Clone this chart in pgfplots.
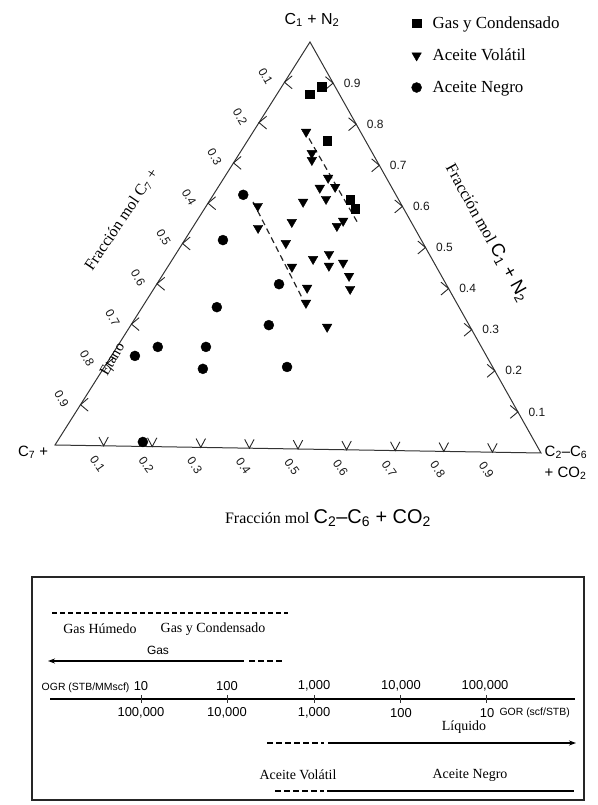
\documentclass[border=0pt]{standalone}
\usepackage{fontspec}
\setmainfont{Liberation Serif}
\newfontfamily\sansf{Liberation Sans}
\usepackage{pgfplots}
\usepackage{pgfplotstable}
\pgfplotsset{compat=1.18}
\usetikzlibrary{arrows.meta}

\newcommand\fs[1]{\fontsize{#1}{#1}\selectfont}
\tikzset{
  tk/.style={line width=0.9bp, black!85},
  ticklab/.style={font=\sansf\fs{12}, inner sep=0pt, text=black!90},
}

% Compositions: c1 = mole fraction C1+N2, c2 = mole fraction C2-C6+CO2
% (the C7+ fraction is 1 - c1 - c2)
\pgfplotstableread{
c1    c2
0.872 0.067
0.890 0.082
0.758 0.162
0.614 0.285
0.592 0.307
}\gascond

\pgfplotstableread{
c1    c2
0.779 0.108
0.727 0.147
0.710 0.156
0.667 0.212
0.645 0.238
0.642 0.208
0.615 0.235
0.607 0.192
0.595 0.105
0.557 0.195
0.541 0.134
0.549 0.292
0.562 0.298
0.505 0.210
0.467 0.286
0.480 0.312
0.451 0.327
0.447 0.253
0.459 0.352
0.427 0.381
0.395 0.400
0.396 0.311
0.359 0.328
0.301 0.402
}\volatil

\pgfplotstableread{
c1    c2
0.622 0.061
0.510 0.078
0.404 0.249
0.345 0.152
0.303 0.281
0.245 0.083
0.222 0.048
0.247 0.181
0.193 0.203
0.201 0.372
0.011 0.175
}\negro

% dashed boundaries between the fluid types
\pgfplotstableread{
c1    c2
0.784 0.101
0.557 0.331
}\limA
\pgfplotstableread{
c1    c2
0.605 0.090
0.373 0.312
}\limB

\begin{document}
\begin{tikzpicture}
\begin{axis}[name=main, scale only axis, width=598bp, height=805bp,
  xmin=0, xmax=598, ymin=-805, ymax=0, axis lines=none, clip=false,
  legend style={at={(0.688,0.982)}, anchor=north west, draw=none, fill=none,
    font=\fs{17}, row sep=15bp, column sep=9bp, inner sep=0pt},
  legend image code/.code={\draw[#1] plot coordinates {(0bp,0bp)};},
  legend cell align=left,
]
% triangle frame
\draw[line width=1bp, black!80] (axis cs:55,-445) -- (axis cs:541,-453) -- (axis cs:310,-42) -- cycle;

\pgfplotsinvokeforeach{1,...,9}{
  % bottom scale: C2-C6 + CO2
  \draw[tk] (axis cs:{55+48.6*#1},{-445-0.8*#1}) ++(118:10bp) -- (axis cs:{55+48.6*#1},{-445-0.8*#1}) -- ++(62:10bp);
  \node[ticklab, rotate=-55] at (axis cs:{49+48.6*#1},{-463-0.8*#1}) {0.#1};
  % left scale: C7+
  \draw[tk] (axis cs:{55+25.5*(10-#1)},{-445+40.3*(10-#1)}) ++(40:10bp) -- (axis cs:{55+25.5*(10-#1)},{-445+40.3*(10-#1)}) -- ++(-40:10bp);
  \node[ticklab, rotate=-60] at (axis cs:{36+25.5*(10-#1)},{-439+40.3*(10-#1)}) {0.#1};
  % right scale: C1 + N2
  \draw[tk] (axis cs:{541-23.1*#1},{-453+41.1*#1}) ++(140:10bp) -- (axis cs:{541-23.1*#1},{-453+41.1*#1}) -- ++(220:10bp);
  \node[ticklab] at (axis cs:{560-23.1*#1},{-453+41.1*#1}) {0.#1};
}

\addplot[forget plot, dash pattern=on 6bp off 4bp, line width=1.2bp, black!85]
  table[x expr={55+486*\thisrow{c2}+255*\thisrow{c1}}, y expr={-445-8*\thisrow{c2}+403*\thisrow{c1}}] {\limA};
\addplot[forget plot, dash pattern=on 6bp off 4bp, line width=1.2bp, black!85]
  table[x expr={55+486*\thisrow{c2}+255*\thisrow{c1}}, y expr={-445-8*\thisrow{c2}+403*\thisrow{c1}}] {\limB};

\addplot[only marks, mark=square*, mark size=4.3bp, black]
  table[x expr={55+486*\thisrow{c2}+255*\thisrow{c1}}, y expr={-445-8*\thisrow{c2}+403*\thisrow{c1}}] {\gascond};
\addlegendentry{Gas y Condensado}
\addplot[only marks, mark=triangle*, mark size=5.5bp, black, every mark/.append style={rotate=180}]
  table[x expr={55+486*\thisrow{c2}+255*\thisrow{c1}}, y expr={-445-8*\thisrow{c2}+403*\thisrow{c1}}] {\volatil};
\addlegendentry{Aceite Volátil}
\addplot[only marks, mark=*, mark size=5bp, black]
  table[x expr={55+486*\thisrow{c2}+255*\thisrow{c1}}, y expr={-445-8*\thisrow{c2}+403*\thisrow{c1}}] {\negro};
\addlegendentry{Aceite Negro}

% corner and side titles
\node[font=\sansf\fs{16}] at (axis cs:312,-20) {C\textsubscript{1} + N\textsubscript{2}};
\node[font=\sansf\fs{15}] at (axis cs:33,-452) {C\textsubscript{7} +};
\node[font=\sansf\fontsize{15}{21}\selectfont, align=left] at (axis cs:566,-463) {C\textsubscript{2}–C\textsubscript{6}\\+ CO\textsubscript{2}};
\node at (axis cs:328,-518) {\fs{16}Fracción mol \sansf\fs{20}C\textsubscript{2}–C\textsubscript{6} + CO\textsubscript{2}};
\node[rotate=56] at (axis cs:122,-220) {\fs{16}Fracción mol C\textsubscript{7} +};
\node[rotate=-61] at (axis cs:487,-233) {\fs{16.5}Fracción mol \sansf\fs{18.5}C\textsubscript{1} + N\textsubscript{2}};
\node[rotate=60, font=\fs{15}, inner sep=0pt] at (axis cs:112,-359) {Etano};

% ---- OGR / GOR scale ----
\draw[line width=1.1bp, black!85] (axis cs:32,-577) rectangle (axis cs:584,-800);
\addplot[forget plot, dash pattern=on 5bp off 3bp, line width=1.3bp, black] coordinates {(52,-613) (288,-613)};
\node[font=\fs{14}] at (axis cs:100,-629) {Gas Húmedo};
\node[font=\fs{14}] at (axis cs:213,-629) {Gas y Condensado};
\node[font=\sansf\fs{12}] at (axis cs:158,-650) {Gas};
\addplot[forget plot, {Stealth[length=7bp,width=5bp]}-, line width=1.3bp, black] coordinates {(48,-661) (244,-661)};
\addplot[forget plot, dash pattern=on 6bp off 3bp, line width=1.3bp, black] coordinates {(249,-661) (283,-661)};

\addplot[forget plot, line width=1.6bp, black] coordinates {(50,-699) (575,-699)};
\pgfplotsinvokeforeach{141,227,314,400,486}{
  \draw[line width=0.8bp, black!80] (axis cs:#1,-695) -- (axis cs:#1,-703);
}
\node[font=\sansf\fs{10.5}, anchor=east] at (axis cs:133,-688) {OGR (STB/MMscf)};
\node[font=\sansf\fs{13}] at (axis cs:141,-686) {10};
\node[font=\sansf\fs{13}] at (axis cs:227,-686) {100};
\node[font=\sansf\fs{13}] at (axis cs:314,-686) {1,000};
\node[font=\sansf\fs{13}] at (axis cs:401,-686) {10,000};
\node[font=\sansf\fs{13}] at (axis cs:485,-686) {100,000};
\node[font=\sansf\fs{13}] at (axis cs:141,-713) {100,000};
\node[font=\sansf\fs{13}] at (axis cs:227,-713) {10,000};
\node[font=\sansf\fs{13}] at (axis cs:314,-713) {1,000};
\node[font=\sansf\fs{13}] at (axis cs:401,-713) {100};
\node[font=\sansf\fs{13}] at (axis cs:487,-713) {10};
\node[font=\sansf\fs{10.5}, anchor=west] at (axis cs:496,-713) {GOR (scf/STB)};

\node[font=\fs{14}] at (axis cs:464,-727) {Líquido};
\addplot[forget plot, dash pattern=on 6bp off 3bp, line width=1.3bp, black] coordinates {(267,-743) (324,-743)};
\addplot[forget plot, -{Stealth[length=7bp,width=5bp]}, line width=1.3bp, black] coordinates {(328,-743) (576,-743)};

\node[font=\fs{14}] at (axis cs:298,-775) {Aceite Volátil};
\node[font=\fs{14}] at (axis cs:470,-775) {Aceite Negro};
\addplot[forget plot, dash pattern=on 6bp off 3bp, line width=1.3bp, black] coordinates {(275,-791) (324,-791)};
\addplot[forget plot, line width=1.3bp, black] coordinates {(327,-791) (574,-791)};
\end{axis}
\pgfresetboundingbox
\path[use as bounding box] (main.south west) rectangle (main.north east);
\end{tikzpicture}
\end{document}
